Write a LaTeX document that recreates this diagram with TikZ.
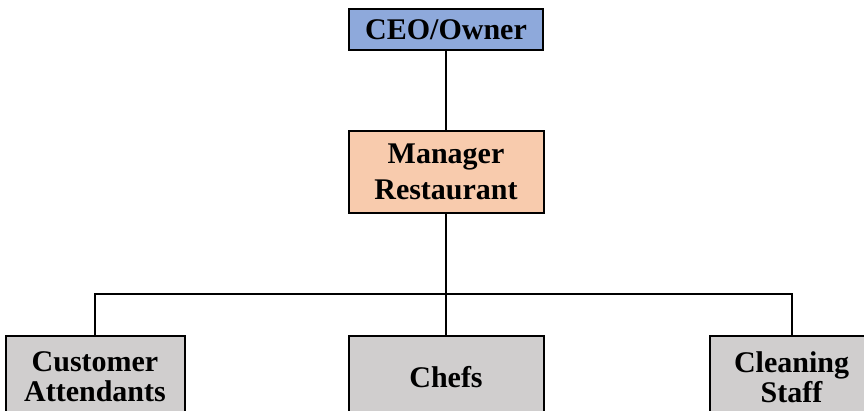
\documentclass[tikz,border=0pt]{standalone}
\usepackage{fontspec}
\setmainfont{Liberation Serif}
\usepackage{xcolor}
\usetikzlibrary{positioning}

\definecolor{ceoblue}{HTML}{8EA9DB}
\definecolor{mgrpeach}{HTML}{F8CBAD}
\definecolor{staffgray}{HTML}{D0CECE}

\begin{document}
\begin{tikzpicture}[
    x=1pt, y=1pt,
    box/.style={rectangle, draw=black, line width=2pt, align=center,
                font=\fontsize{30}{34}\selectfont\bfseries, inner sep=2pt},
    ceobox/.style={box, fill=ceoblue, minimum width=194pt, minimum height=41pt},
    mgrbox/.style={box, fill=mgrpeach, minimum width=195pt, minimum height=82pt,
                   font=\fontsize{30}{36}\selectfont\bfseries},
    staffbox/.style={box, fill=staffgray, minimum width=195pt, minimum height=82pt,
                     font=\fontsize{30}{30}\selectfont\bfseries},
    link/.style={line width=2pt}
]
\useasboundingbox (0,0) rectangle (864,411);

% --- top: owner and manager ---
\node[ceobox] (ceo) at (446,381.5) {CEO/Owner};
\node[mgrbox, below=79pt of ceo] (manager) {Manager\\Restaurant};

% --- bottom row: staff ---
\node[staffbox, below=121pt of manager] (chefs) {Chefs};
\node[staffbox, left=162pt of chefs, minimum width=179pt] (customer) {Customer\\Attendants};
\node[staffbox, right=164pt of chefs, minimum width=164pt] (cleaning) {Cleaning\\Staff};

% links
\coordinate[below=80pt of manager.south] (bus);
\draw[link] (ceo) -- (manager);
\draw[link] (manager) -- (chefs);
\draw[link] (customer.north) |- (bus) -| (cleaning.north);

\end{tikzpicture}
\end{document}
